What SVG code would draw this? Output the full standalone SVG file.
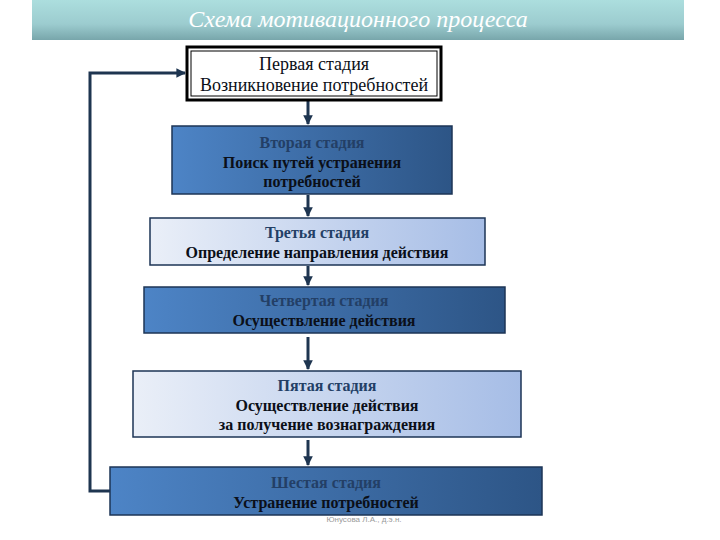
<svg xmlns="http://www.w3.org/2000/svg" width="720" height="540" viewBox="0 0 720 540">
<defs>
<linearGradient id="banner" x1="0" y1="0" x2="0" y2="1">
<stop offset="0" stop-color="#acdede"/>
<stop offset="0.6" stop-color="#9ccccf"/>
<stop offset="1" stop-color="#78a6ab"/>
</linearGradient>
<linearGradient id="dark" x1="0" y1="0" x2="1" y2="0">
<stop offset="0" stop-color="#4d84c6"/>
<stop offset="1" stop-color="#2d5586"/>
</linearGradient>
<linearGradient id="light" x1="0" y1="0" x2="1" y2="0">
<stop offset="0" stop-color="#eaeff8"/>
<stop offset="1" stop-color="#a6bde6"/>
</linearGradient>
<marker id="ah" viewBox="0 0 10 10" refX="9" refY="5" markerWidth="3.2" markerHeight="3.2" orient="auto" markerUnits="strokeWidth">
<path d="M0,0 L10,5 L0,10 z" fill="#1e3550"/>
</marker>
</defs>
<style>
text{font-family:"Liberation Serif","Times New Roman","DejaVu Serif",serif}
.t{text-anchor:middle;font-size:18px}
.b{font-weight:bold;font-size:16px}
.h{fill:#233f66}
.k{fill:#0b0f18}
.dk{fill:url(#dark);stroke:#1d3556;stroke-width:1.5}
.lt{fill:url(#light);stroke:#1d3556;stroke-width:1.5}
.c{fill:none;stroke:#1e3550;stroke-width:3}
</style>
<rect width="720" height="540" fill="#ffffff"/>
<g id="title">
<rect x="32" y="0" width="652" height="40" fill="url(#banner)"/>
<text x="358" y="27" font-style="italic" font-size="24" fill="#ffffff" text-anchor="middle">Схема мотивационного процесса</text>
</g>
<g id="connectors">
<line class="c" x1="308" y1="100" x2="308" y2="124" marker-end="url(#ah)"/>
<line class="c" x1="308" y1="195" x2="308" y2="216" marker-end="url(#ah)"/>
<line class="c" x1="308" y1="266" x2="308" y2="285" marker-end="url(#ah)"/>
<line class="c" x1="308" y1="337" x2="308" y2="369" marker-end="url(#ah)"/>
<line class="c" x1="308" y1="440" x2="308" y2="465" marker-end="url(#ah)"/>
<polyline class="c" points="110,491 90,491 90,73 185,73" marker-end="url(#ah)"/>
</g>
<g id="stage1">
<rect x="187" y="47" width="254" height="53" fill="#ffffff" stroke="#000" stroke-width="3"/>
<rect x="191" y="51" width="246" height="45" fill="none" stroke="#000" stroke-width="1"/>
<text class="t k" x="314" y="70">Первая стадия</text>
<text class="t k" x="314" y="91">Возникновение потребностей</text>
</g>
<g id="stage2">
<rect class="dk" x="172" y="126" width="280" height="68"/>
<text class="t b h" x="312" y="148">Вторая стадия</text>
<text class="t b k" x="312" y="168">Поиск путей устранения</text>
<text class="t b k" x="312" y="187">потребностей</text>
</g>
<g id="stage3">
<rect class="lt" x="150" y="218" width="335" height="47"/>
<text class="t b h" x="317" y="238">Третья стадия</text>
<text class="t b k" x="317" y="258">Определение направления действия</text>
</g>
<g id="stage4">
<rect class="dk" x="144" y="287" width="361" height="46"/>
<text class="t b h" x="324" y="306">Четвертая стадия</text>
<text class="t b k" x="324" y="326">Осуществление действия</text>
</g>
<g id="stage5">
<rect class="lt" x="133" y="371" width="388" height="66"/>
<text class="t b h" x="327" y="391">Пятая стадия</text>
<text class="t b k" x="327" y="411">Осуществление действия</text>
<text class="t b k" x="327" y="430">за получение вознаграждения</text>
</g>
<g id="stage6">
<rect class="dk" x="110" y="467" width="432" height="48"/>
<text class="t b h" x="326" y="488">Шестая стадия</text>
<text class="t b k" x="326" y="508">Устранение потребностей</text>
</g>
<text x="364" y="522" font-size="8" fill="#9a9a9a" text-anchor="middle" style="font-family:'Liberation Sans',sans-serif">Юнусова Л.А., д.э.н.</text>
</svg>
